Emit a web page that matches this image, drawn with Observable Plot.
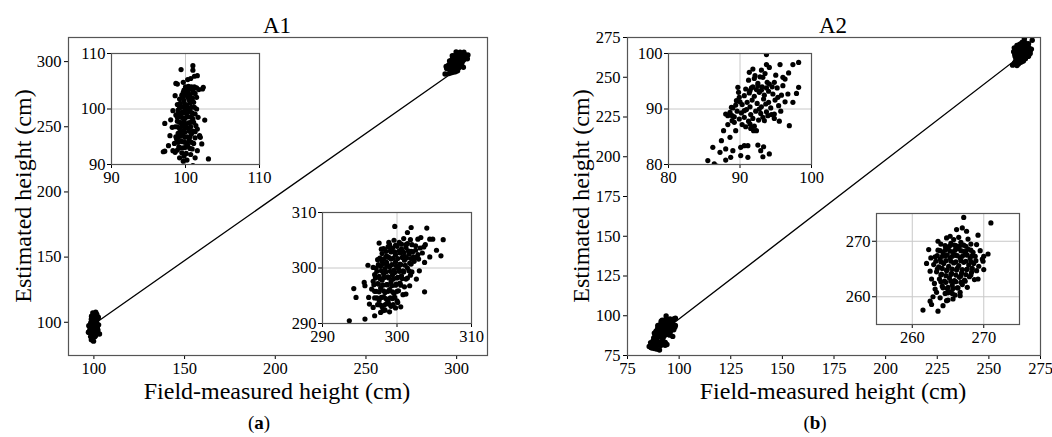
<!DOCTYPE html>
<html>
<head>
<meta charset="utf-8">
<script src="https://cdn.jsdelivr.net/npm/d3@7"></script>
<script src="https://cdn.jsdelivr.net/npm/@observablehq/plot@0.6"></script>
<style>
  html, body { margin: 0; padding: 0; background: #fff; }
  #root { position: relative; width: 1052px; height: 437px; overflow: hidden; font-family: "Liberation Serif", "Times New Roman", serif; color: #000; }
  #root svg { position: absolute; overflow: visible; background: transparent; }
  .lbl { position: absolute; white-space: nowrap; transform: translate(-50%, -50%); line-height: 1; }
  .ttl { font-size: 23px; }
  .axl { font-size: 24px; }
  .rot { transform: translate(-50%, -50%) rotate(-90deg); }
  .cap { font-size: 19px; }
</style>
</head>
<body>
<div id="root"></div>
<script>
// ---------- Data ----------
const a1Low = [
  [99.4,107.1],[101.0,107.8],[101.0,107.0],[101.6,106.0],[100.7,105.5],[101.2,105.9],[98.9,104.5],[98.7,104.6],
  [102.4,103.9],[102.3,103.6],[98.6,102.4],[99.7,103.0],[98.3,99.7],[97.2,97.4],[98.0,98.05],[102.6,98.0],
  [98.2,96.7],[102.0,94.9],[97.9,95.2],[97.2,92.4],[98.3,92.5],[99.2,91.2],[101.3,91.2],[103.1,91.0],
  [99.7,90.6],[97.7,93.4],[102.2,93.7],[101.9,95.2],[97.0,92.3],[98.6,92.2],
  [100.0,104.0],[100.4,104.1],[100.8,104.0],[101.2,104.0],[101.5,103.8],[99.8,103.4],[100.3,103.2],[101.0,103.3],
  [101.8,103.5],[99.5,102.5],[100.0,102.6],[100.6,102.3],[101.3,102.8],[99.2,101.8],[99.8,101.5],[100.5,101.6],
  [101.1,101.2],[98.9,100.8],[99.4,100.4],[100.2,100.7],[100.8,100.3],[101.5,100.0],[99.0,99.8],[99.6,99.5],
  [100.1,99.2],[100.6,99.6],[101.3,99.1],[98.7,98.9],[99.3,98.6],[99.9,98.3],[100.4,98.6],[101.0,98.2],
  [101.7,98.5],[98.9,97.8],[99.5,97.5],[100.0,97.2],[100.7,97.6],[101.4,97.0],[98.6,96.8],[99.2,96.5],
  [99.8,96.2],[100.3,96.6],[101.0,96.0],[101.6,96.4],[99.0,95.6],[99.6,95.3],[100.2,95.0],[100.8,95.5],
  [101.3,94.8],[98.8,94.6],[99.4,94.2],[99.9,94.0],[100.5,94.4],[101.1,93.8],[98.5,93.8],[99.1,93.2],
  [99.7,93.0],[100.3,93.4],[100.9,92.8],[98.9,92.6],[99.5,92.1],[100.1,92.0],[100.7,91.8],[101.6,92.5],
  [99.8,91.5],[100.2,90.8],[99.0,94.9],[100.0,100.0],[100.9,101.9],[99.7,104.8],[100.3,105.3],
  [100.2,103.6],[100.7,103.7],[99.9,102.9],[100.4,102.8],[101.0,102.9],[99.6,102.0],[100.3,102.1],[100.9,101.9],
  [101.5,102.1],[99.3,101.0],[99.9,100.9],[100.6,101.1],[99.2,100.2],[99.8,100.3],[100.4,100.1],[101.2,100.3],
  [99.0,99.3],[99.5,99.2],[100.3,99.4],[100.9,99.3],[98.9,98.5],[99.6,98.4],[100.2,98.6],[100.8,98.5],
  [99.2,97.6],[99.8,97.7],[100.4,97.5],[101.1,97.6],[98.9,96.8],[99.5,96.9],[100.0,96.7],[100.7,96.8],
  [99.3,95.9],[99.9,95.8],[100.5,96.0],[101.3,95.9],[98.7,95.0],[99.3,95.1],[99.9,94.9],[100.6,95.0],
  [99.0,94.0],[99.6,94.1],[100.2,93.9],[100.8,94.0],[99.3,93.0],[100.0,93.1],[100.6,92.9],
  [99.0,89.5],[100.5,88.8],[99.3,87.8],[98.6,86.5],[99.8,85.5],[98.2,89.0],[101.0,89.8]
];
const a1High = [
  [299.7,307.5],[301.4,306.4],[301.9,307.3],[304.0,307.2],[300.9,305.3],[301.8,305.1],[302.8,305.2],[303.2,305.5],
  [304.4,305.2],[304.8,305.2],[306.2,305.1],[305.3,303.2],[305.9,302.2],[304.4,302.0],[297.6,304.5],[297.9,303.4],
  [296.1,300.5],[296.8,300.1],[303.7,301.0],[303.0,299.5],[302.6,298.0],[303.7,295.7],[294.2,296.3],[294.5,294.7],
  [295.6,297.4],[295.7,296.8],[296.2,294.7],[296.3,293.5],[296.8,292.9],[297.0,291.4],[295.7,290.8],[293.6,290.5],
  [298.1,292.3],[299.0,292.1],[300.1,293.8],[301.2,295.3],[301.7,296.8],
  [298.2,303.5],[298.8,303.8],[299.4,303.6],[300.0,303.9],[300.6,303.4],[301.2,303.7],[301.9,303.0],[302.5,304.0],
  [303.1,303.6],[303.8,304.2],[298.0,302.6],[298.6,302.2],[299.2,302.9],[299.8,302.4],[300.4,302.7],[301.0,302.1],
  [301.6,302.5],[302.2,302.0],[302.8,302.4],[303.4,302.7],[297.4,301.5],[298.0,301.2],[298.6,301.0],[299.2,301.6],
  [299.8,301.1],[300.4,300.7],[301.0,301.4],[301.7,300.9],[302.3,301.2],[297.2,300.0],[297.8,300.3],[298.4,299.9],
  [299.0,300.2],[299.6,299.6],[300.2,299.9],[300.8,299.5],[301.4,300.0],[302.0,299.3],[297.0,298.8],[297.6,298.5],
  [298.2,299.0],[298.8,298.4],[299.4,298.7],[300.0,298.2],[300.6,298.6],[301.2,298.0],[301.8,298.7],[296.8,297.6],
  [297.4,297.2],[298.0,297.8],[298.6,297.0],[299.2,297.5],[299.8,296.9],[300.4,297.3],[301.0,296.6],[296.6,296.2],
  [297.2,295.8],[297.8,296.4],[298.4,295.6],[299.0,296.1],[299.6,295.4],[300.2,295.9],[300.8,295.2],[297.0,294.6],
  [297.6,294.2],[298.2,294.8],[298.8,294.0],[299.4,294.5],[300.0,294.1],[297.4,293.4],[298.0,293.0],[298.6,293.6],
  [299.2,293.1],[299.8,292.8],[300.5,293.0],[297.8,292.0],[298.4,292.4],[302.5,303.2],[303.6,303.8],[302.9,301.6],
  [298.9,304.6],[299.6,305.0],[300.3,304.6],[301.4,304.4],
  [298.5,303.0],[299.1,303.1],[299.7,302.9],[300.3,303.1],[300.9,302.8],[301.5,303.1],[302.1,302.9],
  [297.7,301.8],[298.3,301.7],[298.9,301.9],[299.5,301.8],[300.1,301.7],[300.7,301.9],[301.3,301.8],[301.9,301.7],[302.6,301.9],
  [297.5,300.6],[298.1,300.7],[298.7,300.5],[299.3,300.6],[299.9,300.4],[300.5,300.6],[301.1,300.5],[301.9,300.7],
  [297.3,299.4],[297.9,299.5],[298.5,299.3],[299.1,299.4],[299.7,299.2],[300.3,299.4],[300.9,299.3],[301.6,299.5],
  [297.1,298.2],[297.7,298.1],[298.3,298.3],[298.9,298.2],[299.5,298.0],[300.1,298.3],[300.7,298.1],[301.4,298.2],
  [296.9,297.0],[297.5,297.1],[298.1,296.9],[298.7,297.0],[299.3,296.8],[299.9,297.1],[300.5,296.9],
  [297.0,295.8],[297.6,295.7],[298.2,295.9],[298.8,295.8],[299.4,295.7],[300.0,295.8],
  [297.3,294.6],[297.9,294.7],[298.5,294.5],[299.1,294.6],[299.7,294.7],
  [297.7,293.4],[298.3,293.3],[298.9,293.5],[299.5,293.4],
  [299.0,304.2],[299.8,304.1],[300.6,304.3],[301.2,304.2],[302.0,304.2]
];
const a2Low = [
  [93.7,99.8],[93.7,98.0],[94.1,97.5],[95.6,98.0],[97.4,98.0],[98.2,98.4],[91.3,96.6],[92.1,96.0],
  [93.2,95.7],[94.8,94.8],[96.0,95.7],[96.3,95.4],[94.1,94.5],[89.7,93.9],[89.9,92.1],[92.5,94.2],
  [91.4,93.3],[96.7,92.7],[97.9,92.8],[98.2,93.9],[97.4,91.2],[95.3,92.1],[94.8,89.1],[95.5,87.8],
  [96.9,87.0],[93.9,88.8],[93.4,87.9],[88.0,89.1],[88.9,88.8],[89.2,87.6],[88.3,87.2],[89.4,86.1],
  [91.4,87.3],[91.9,86.1],[92.3,86.1],[87.7,86.1],[88.6,84.9],[87.4,84.3],[88.0,82.8],[86.2,83.1],
  [87.2,82.2],[89.0,82.5],[90.1,83.1],[90.6,83.4],[91.1,83.4],[92.5,83.5],[93.3,83.2],[92.9,82.5],
  [94.1,81.9],[91.1,81.3],[90.1,81.6],[88.7,81.3],[88.0,80.8],[85.5,80.7],[86.4,80.1],[93.2,81.4],
  [89.5,91.5],[90.3,90.8],[91.0,91.2],[91.7,91.6],[92.4,91.0],[93.0,90.4],[93.6,90.9],[94.3,90.2],
  [90.6,92.4],[91.3,92.9],[92.0,92.3],[92.7,93.0],[93.4,92.5],[94.0,93.2],[94.6,92.7],[91.8,94.0],
  [92.5,94.6],[93.1,94.0],[93.8,94.8],[94.5,94.0],[95.2,93.8],[91.2,95.2],[92.0,95.5],[92.8,95.8],
  [93.5,96.4],[95.0,96.1],[96.0,94.2],[89.0,90.2],[89.6,89.6],[90.2,89.3],[90.9,89.9],[91.5,89.0],
  [92.2,89.6],[92.9,89.2],[93.7,89.5],[94.4,89.0],[88.6,89.4],[89.2,88.6],[89.9,88.2],[90.6,88.5],
  [91.2,87.8],[91.8,88.3],[88.9,87.9],[90.3,87.2],[90.8,86.8],[91.5,86.5],[92.0,86.9],[95.4,90.6],
  [96.3,91.3],[89.8,93.0],[88.3,88.8],[94.9,91.6],[95.8,92.5],[92.6,88.0],[93.3,91.8],
  [90.8,93.6],[91.6,93.8],[92.3,93.5],[93.0,93.4],[93.7,93.8],[90.0,91.3],[91.4,90.4],[92.7,90.0],
  [94.0,91.2],[89.4,90.7],[90.6,89.7],[93.2,88.5],[88.8,90.3],[94.8,88.3],[95.7,89.6],[91.8,97.2],
  [93.0,97.0],[96.8,96.5],
  [90.5,78.5],[88.0,79.4],[86.8,79.7],[89.3,79.0]
];
const a2High = [
  [267.2,274.3],[271.0,273.3],[266.2,272.1],[267.0,272.4],[267.6,271.8],[269.2,271.1],[265.3,270.9],[264.8,270.6],
  [263.6,270.0],[269.0,269.4],[270.0,267.3],[270.6,267.7],[269.9,266.4],[270.0,264.9],[269.2,263.2],[262.0,266.0],
  [262.5,264.6],[262.7,263.2],[263.2,261.4],[263.4,260.8],[262.9,260.0],[262.5,259.2],[262.7,258.6],[261.5,257.6],
  [263.6,257.4],[264.3,258.4],[264.8,259.3],[265.7,259.6],[266.7,260.2],
  [264.0,269.5],[264.7,269.0],[265.4,269.6],[266.1,269.2],[266.8,269.8],[267.5,269.1],[268.2,269.5],[263.6,268.4],
  [264.3,268.0],[265.0,268.6],[265.7,268.1],[266.4,268.7],[267.1,268.2],[267.8,268.6],[268.5,268.0],[263.2,267.2],
  [263.9,266.8],[264.6,267.4],[265.3,266.9],[266.0,267.5],[266.7,267.0],[267.4,267.6],[268.1,266.9],[268.8,267.3],
  [263.0,265.8],[263.7,265.4],[264.4,266.0],[265.1,265.5],[265.8,266.1],[266.5,265.6],[267.2,266.2],[267.9,265.7],
  [268.6,266.0],[269.3,265.5],[263.4,264.5],[264.1,264.1],[264.8,264.7],[265.5,264.2],[266.2,264.8],[266.9,264.3],
  [267.6,264.9],[268.3,264.4],[269.0,264.7],[263.8,263.2],[264.5,262.8],[265.2,263.4],[265.9,262.9],[266.6,263.5],
  [267.3,263.0],[268.0,263.6],[268.7,263.1],[264.2,261.9],[264.9,261.5],[265.6,262.1],[266.3,261.6],[267.0,262.2],
  [267.7,261.7],[264.6,260.6],[265.3,260.9],[266.0,260.3],[266.7,260.8],[263.9,259.8],[265.0,259.4],[262.3,268.5],
  [262.6,267.0],[269.5,268.3],[269.8,266.8],[263.1,262.4],[265.8,270.3],[266.5,270.7],[267.8,270.4],
  [264.6,269.2],[265.2,269.1],[265.9,269.3],[266.6,269.1],[267.2,269.3],
  [263.9,268.3],[264.6,268.4],[265.3,268.2],[266.0,268.4],[266.8,268.3],[267.5,268.2],[268.2,268.4],
  [263.5,267.4],[264.2,267.3],[264.9,267.5],[265.6,267.3],[266.3,267.4],[267.0,267.3],[267.7,267.5],[268.4,267.4],
  [263.3,266.4],[264.0,266.3],[264.7,266.5],[265.4,266.4],[266.1,266.3],[266.8,266.5],[267.5,266.4],[268.2,266.3],[268.9,266.5],
  [263.5,265.0],[264.2,265.1],[264.9,264.9],[265.6,265.0],[266.3,265.1],[267.0,264.9],[267.7,265.0],[268.4,265.1],
  [264.0,263.9],[264.7,263.8],[265.4,264.0],[266.1,263.9],[266.8,263.8],[267.5,264.0],[268.2,263.9],
  [264.0,262.7],[264.7,262.6],[265.4,262.8],[266.1,262.7],[266.8,262.6],[267.4,262.8],
  [264.3,261.6],[265.0,261.7],[265.7,261.5],[266.4,261.6],[265.0,260.7],[265.6,260.6]
];
const a1Fit = [[98, 96.6], [300, 293.8]];
const a2Fit = [[90, 88], [268, 266]];

const a1Ticks = [100, 150, 200, 250, 300];
const a2Ticks = [75, 100, 125, 150, 175, 200, 225, 250, 275];
const a1LowTicks = [90, 100, 110];
const a1HighTicks = [290, 300, 310];
const a2LowTicks = [80, 90, 100];
const a2HighTicks = [260, 270];

const panelTitles = ["A1", "A2"];
const xLabel = "Field-measured height (cm)";
const yLabel = "Estimated height (cm)";

// ---------- Drawing ----------
const root = document.getElementById("root");
const FONT = "Liberation Serif, Times New Roman, serif";
const FRAME = "#555";

function place(svg, left, top) {
  svg.style.left = left + "px";
  svg.style.top = top + "px";
  root.appendChild(svg);
}

function mainPanel({points, fit, xDomain, yDomain, ticks, left, width, mL, mR}) {
  const svg = Plot.plot({
    width, height: 437,
    marginLeft: mL, marginRight: mR, marginTop: 37, marginBottom: 82,
    style: {fontFamily: FONT, fontSize: "16.5px", background: "transparent", color: "#000"},
    x: {domain: xDomain, ticks, tickSize: 4, tickPadding: 3, label: null, tickFormat: d => String(d)},
    y: {domain: yDomain, ticks, tickSize: 4, tickPadding: 3, label: null, tickFormat: d => String(d)},
    marks: [
      Plot.line(fit, {x: d => d[0], y: d => d[1], stroke: "black", strokeWidth: 1.3, clip: true}),
      Plot.dot(points, {x: d => d[0], y: d => d[1], r: 2.7, fill: "black", clip: true}),
      Plot.frame({stroke: FRAME, strokeWidth: 1.2})
    ]
  });
  place(svg, left, 0);
}

function inset({points, domain, ticks, left, top, w, h}) {
  const mL = 38, mT = 8, mR = 16, mB = 24;
  const svg = Plot.plot({
    width: w + mL + mR, height: h + mT + mB,
    marginLeft: mL, marginRight: mR, marginTop: mT, marginBottom: mB,
    style: {fontFamily: FONT, fontSize: "16.5px", background: "transparent", color: "#000"},
    x: {domain, ticks, tickSize: 4, tickPadding: 3, label: null, tickFormat: d => String(d)},
    y: {domain, ticks, tickSize: 4, tickPadding: 2, label: null, tickFormat: d => String(d)},
    marks: [
      Plot.frame({fill: "white"}),
      Plot.ruleX(ticks, {stroke: "#c8c8c8", strokeWidth: 1}),
      Plot.ruleY(ticks, {stroke: "#c8c8c8", strokeWidth: 1}),
      Plot.dot(points, {x: d => d[0], y: d => d[1], r: 2.6, fill: "black", clip: true}),
      Plot.frame({stroke: FRAME, strokeWidth: 1.2})
    ]
  });
  place(svg, left - mL, top - mT);
}

function label(text, cls, x, y, html) {
  const d = document.createElement("div");
  d.className = "lbl " + cls;
  d.style.left = x + "px";
  d.style.top = y + "px";
  if (html) d.innerHTML = text; else d.textContent = text;
  root.appendChild(d);
}

// Panel (a)
mainPanel({points: a1Low.concat(a1High), fit: a1Fit, xDomain: [86, 317], yDomain: [74.5, 318.5],
           ticks: a1Ticks, left: 0, width: 526, mL: 68, mR: 39});
inset({points: a1Low, domain: [90, 110], ticks: a1LowTicks, left: 111, top: 53, w: 148, h: 111});
inset({points: a1High, domain: [290, 310], ticks: a1HighTicks, left: 322, top: 212, w: 149, h: 111});

// Panel (b)
mainPanel({points: a2Low.concat(a2High), fit: a2Fit, xDomain: [75, 275], yDomain: [75, 275],
           ticks: a2Ticks, left: 526, width: 526, mL: 101, mR: 12});
inset({points: a2Low, domain: [80, 100], ticks: a2LowTicks, left: 668, top: 53, w: 143, h: 111});
inset({points: a2High, domain: [255, 275], ticks: a2HighTicks, left: 876, top: 213, w: 143, h: 111});

// Texts
label(panelTitles[0], "ttl", 277, 25);
label(panelTitles[1], "ttl", 833, 25);
label(xLabel, "axl", 277, 391);
label(xLabel, "axl", 833, 391);
label(yLabel, "axl rot", 23, 196);
label(yLabel, "axl rot", 581, 196);
label("(<b>a</b>)", "cap", 259, 422, true);
label("(<b>b</b>)", "cap", 815, 422, true);
</script>
</body>
</html>
